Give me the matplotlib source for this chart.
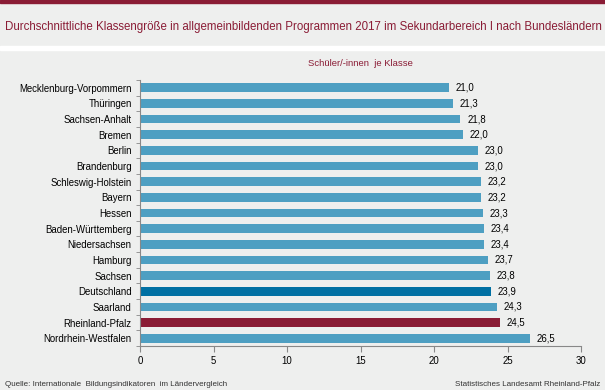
"""
Durchschnittliche Klassengroesse Sekundarbereich I nach Bundeslaendern
"""

import matplotlib.pyplot as plt
from matplotlib.patches import Rectangle

import numpy as np

# Daten
laender = [
    "Mecklenburg-Vorpommern", "Thüringen", "Sachsen-Anhalt", "Bremen", "Berlin",
    "Brandenburg", "Schleswig-Holstein", "Bayern", "Hessen", "Baden-Württemberg",
    "Niedersachsen", "Hamburg", "Sachsen", "Deutschland", "Saarland",
    "Rheinland-Pfalz", "Nordrhein-Westfalen",
]
werte = [21.0, 21.3, 21.8, 22.0, 23.0, 23.0, 23.2, 23.2, 23.3, 23.4,
         23.4, 23.7, 23.8, 23.9, 24.3, 24.5, 26.5]
x_ticks = [0, 5, 10, 15, 20, 25, 30]

bg = "#EEEFEE"
dunkelrot = "#8A1C35"
blau = "#4E9FC2"
blau_de = "#0070A3"

plt.rcParams["font.family"] = ["Liberation Sans", "DejaVu Sans"]

W, H = 605, 390
fig = plt.figure(figsize=(W / 100, H / 100), dpi=100, facecolor=bg)

# top band and white separator
fig.patches.append(Rectangle((0, 1 - 3 / H), 1, 3 / H, transform=fig.transFigure,
                             color=dunkelrot, zorder=0))
fig.patches.append(Rectangle((0, 1 - 50 / H), 1, 4 / H, transform=fig.transFigure,
                             color="white", zorder=0))

ax = fig.add_axes([140 / W, 1 - 346 / H, (581 - 140) / W, (346 - 80) / H])
ax.set_facecolor(bg)

farben = []
for land in laender:
    if land == "Deutschland":
        farben.append(blau_de)
    elif land == "Rheinland-Pfalz":
        farben.append(dunkelrot)
    else:
        farben.append(blau)

y = np.arange(len(laender))
ax.barh(y, werte, height=0.56, color=farben, zorder=2)

for yi, w in zip(y, werte):
    ax.text(w + 0.45, yi, f"{w:.1f}".replace(".", ","), va="center", ha="left",
            fontsize=6.9, color="black")

ax.set_ylim(len(laender) - 0.5, -0.5)
ax.set_xlim(0, 30)
ax.set_xticks(x_ticks)
ax.set_xticklabels([str(t) for t in x_ticks], fontsize=6.9)
ax.set_yticks(y)
ax.set_yticklabels(laender, fontsize=6.9)
ax.tick_params(axis="y", length=0, pad=6)
ax.set_yticks(np.arange(len(laender) + 1) - 0.5, minor=True)
ax.tick_params(axis="y", which="minor", length=3, color="#888888", direction="out")
ax.tick_params(axis="x", length=4, color="#888888", direction="out", pad=3)

for side in ["top", "right"]:
    ax.spines[side].set_visible(False)
for side in ["left", "bottom"]:
    ax.spines[side].set_color("#888888")
    ax.spines[side].set_linewidth(0.8)

fig.text(5 / W, 1 - 27 / H,
         "Durchschnittliche Klassengröße in allgemeinbildenden Programmen 2017 im Sekundarbereich I nach Bundesländern",
         fontsize=8.3, color=dunkelrot, va="center", ha="left")
fig.text(360 / W, 1 - 64 / H, "Schüler/-innen  je Klasse", fontsize=6.8,
         color=dunkelrot, va="center", ha="center")
fig.text(5 / W, 1 - 385 / H, "Quelle: Internationale  Bildungsindikatoren  im Ländervergleich",
         fontsize=5.8, color="#333333", va="center", ha="left")
fig.text(600 / W, 1 - 385 / H, "Statistisches Landesamt Rheinland-Pfalz",
         fontsize=5.8, color="#333333", va="center", ha="right")

fig.savefig("out.png", dpi=100, facecolor=bg)
